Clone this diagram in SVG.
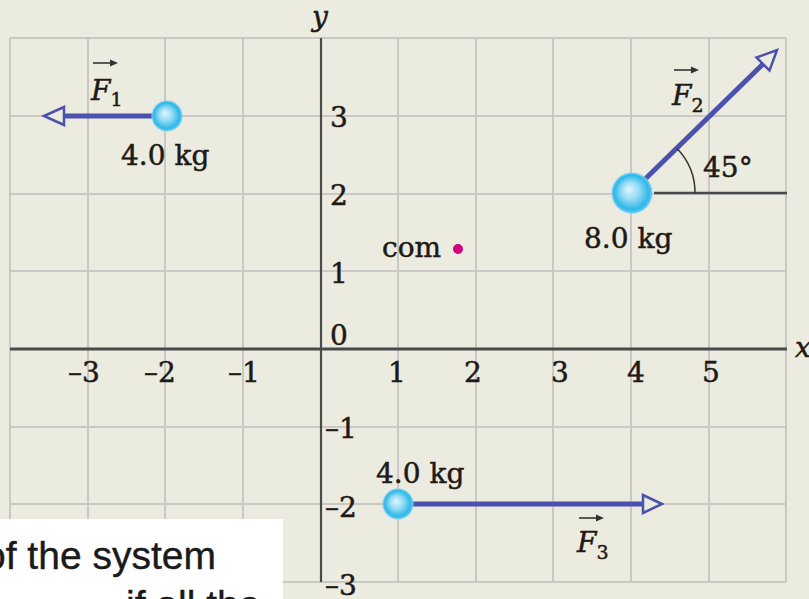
<svg xmlns="http://www.w3.org/2000/svg" width="809" height="599" viewBox="0 0 809 599">
  <defs>
    <style>
      .grid { stroke: #c9c8c4; stroke-width: 2; fill: none; }
      .axis { stroke: #4a4a4a; fill: none; }
      .lbl { font-family: "DejaVu Serif", "Liberation Serif", serif; font-size: 28px; fill: #1e1a16; stroke: #1e1a16; stroke-width: 0.5; }
      .it { font-style: italic; }
      .force { stroke: #4b51ad; stroke-width: 5; fill: none; }
      .head { stroke: #4b51ad; stroke-width: 2.5; fill: #ecebe0; stroke-linejoin: miter; }
      .vec { stroke: #333; stroke-width: 1.6; fill: none; }
      .vech { fill: #333; }
      .sans { font-family: "Liberation Sans", Arial, sans-serif; font-size: 39px; fill: #1a1a1a; stroke: #1a1a1a; stroke-width: 0.4; }
    </style>
    <radialGradient id="ball" cx="0.5" cy="0.5" r="0.5" fx="0.42" fy="0.4">
      <stop offset="0" stop-color="#e2f6fd"/>
      <stop offset="0.45" stop-color="#93dbf5"/>
      <stop offset="0.85" stop-color="#2fb8e8"/>
      <stop offset="1" stop-color="#62c9ef"/>
    </radialGradient>
  </defs>

  <rect x="0" y="0" width="809" height="599" fill="#ecebe0"/>

  <g id="grid">
    <path class="grid" d="M10 38V582M88 38V582M165 38V582M243 38V582M398 38V582M476 38V582M553 38V582M631 38V582M709 38V582M786 38V582"/>
    <path class="grid" d="M10 38H786M10 116H786M10 194H786M10 271H786M10 427H786M10 504H786M10 582H786"/>
  </g>

  <g id="axes">
    <line class="axis" x1="10" y1="349" x2="787" y2="349" stroke-width="3"/>
    <line class="axis" x1="321" y1="38" x2="321" y2="582" stroke-width="2.2" stroke="#2e2e2e"/>
    <text class="lbl it" x="312" y="26">y</text>
    <text class="lbl it" x="795" y="357">x</text>
  </g>

  <g id="xlabels" class="lbl">
    <text x="68" y="382">–3</text>
    <text x="144" y="382">–2</text>
    <text x="228" y="382">–1</text>
    <text x="388" y="382">1</text>
    <text x="464" y="382">2</text>
    <text x="551" y="382">3</text>
    <text x="627" y="382">4</text>
    <text x="702" y="382">5</text>
  </g>
  <g id="ylabels" class="lbl">
    <text x="330" y="127">3</text>
    <text x="330" y="205">2</text>
    <text x="330" y="283">1</text>
    <text x="330" y="345">0</text>
    <text x="325" y="438">–1</text>
    <text x="325" y="517">–2</text>
    <text x="325" y="595">–3</text>
  </g>

  <g id="connectors">
    <line class="force" x1="160" y1="116" x2="64" y2="116"/>
    <polygon class="head" points="44,116 64,107 64,125"/>
    <line class="force" x1="638" y1="186" x2="763" y2="64"/>
    <polygon class="head" points="777,50 769.5,70.5 756.5,57.5"/>
    <line class="force" x1="405" y1="504" x2="643" y2="504"/>
    <polygon class="head" points="662,504 643,495 643,513"/>
    <line x1="654" y1="193" x2="787" y2="193" stroke="#4a4a4a" stroke-width="2.5"/>
    <path d="M695 193 A64 64 0 0 0 677.3 148.7" stroke="#333" stroke-width="1.5" fill="none"/>
  </g>

  <g id="m1">
    <circle cx="167" cy="116" r="16" fill="#8fd8f3" opacity="0.5"/>
    <circle cx="167" cy="116" r="15" fill="url(#ball)"/>
    <text class="lbl" x="121" y="165">4.0 kg</text>
    <g id="F1">
      <text class="lbl it" x="91" y="100">F<tspan font-size="19" font-style="normal" dy="6">1</tspan></text>
      <line class="vec" x1="93" y1="63" x2="113" y2="63"/>
      <polygon class="vech" points="118,63 110,59.5 110,66.5"/>
    </g>
  </g>

  <g id="m2">
    <circle cx="632" cy="193" r="21" fill="#8fd8f3" opacity="0.5"/>
    <circle cx="632" cy="193" r="20" fill="url(#ball)"/>
    <text class="lbl" x="584" y="248">8.0 kg</text>
    <text class="lbl" x="703" y="177">45°</text>
    <g id="F2">
      <text class="lbl it" x="672" y="105">F<tspan font-size="19" font-style="normal" dy="7">2</tspan></text>
      <line class="vec" x1="674" y1="70" x2="694" y2="70"/>
      <polygon class="vech" points="699,70 691,66.5 691,73.5"/>
    </g>
  </g>

  <g id="m3">
    <circle cx="398" cy="504" r="16" fill="#8fd8f3" opacity="0.5"/>
    <circle cx="398" cy="504" r="15" fill="url(#ball)"/>
    <text class="lbl" x="376" y="483">4.0 kg</text>
    <g id="F3">
      <text class="lbl it" x="577" y="552">F<tspan font-size="19" font-style="normal" dy="7">3</tspan></text>
      <line class="vec" x1="579" y1="518" x2="599" y2="518"/>
      <polygon class="vech" points="604,518 596,514.5 596,521.5"/>
    </g>
  </g>

  <g id="com">
    <text class="lbl" x="382" y="257">com</text>
    <circle cx="458" cy="249" r="5" fill="#d4007c"/>
  </g>

  <g id="caption">
    <rect x="0" y="519" width="283" height="80" fill="#ffffff"/>
    <text class="sans" x="-16" y="569">of the system</text>
    <text class="sans" x="126" y="618">if all the</text>
  </g>
</svg>
